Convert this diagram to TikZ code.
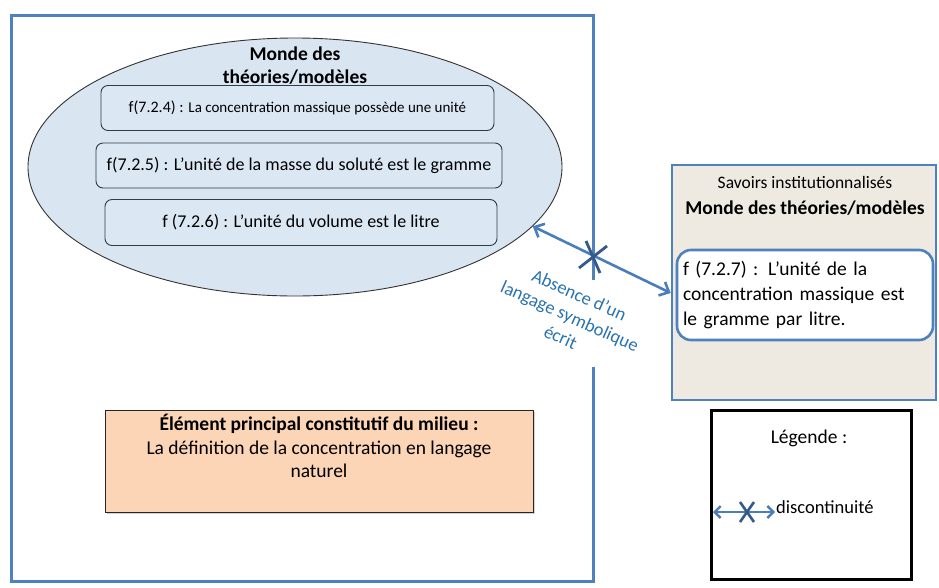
\documentclass[tikz,border=0pt]{standalone}
\usepackage{fontspec}
\setmainfont{Carlito}
\usepackage{xcolor}
\usepackage{tikz}
\usetikzlibrary{shapes,arrows,arrows.meta,positioning,fit,calc,shadows}

\definecolor{cadreBleu}{HTML}{4F81BD}
\definecolor{ellFond}{HTML}{DAE5F2}
\definecolor{boxFond}{HTML}{DCE7F4}
\definecolor{boxBord}{HTML}{2E3B4A}
\definecolor{beige}{HTML}{EEEAE1}
\definecolor{peche}{HTML}{FBD5B6}
\definecolor{flecheBleu}{HTML}{4A7EBB}
\definecolor{croixBleu}{HTML}{35598A}
\definecolor{texteBleu}{HTML}{2A73B0}

\begin{document}
\begin{tikzpicture}[
    x=1pt, y=-1pt,
    cadre/.style={draw=cadreBleu, line width=3pt},
    fbox/.style={rectangle, rounded corners=7pt, draw=boxBord, fill=boxFond, line width=0.9pt, minimum height=45pt, inner sep=0pt},
    inst/.style={rectangle, draw=cadreBleu, fill=beige, line width=2.6pt, minimum width=264pt, minimum height=235pt},
    arrow/.style={<->, >={Straight Barb[length=8pt,width=15pt]}, draw=flecheBleu, line width=2.6pt},
    croix/.style={draw=croixBleu, line width=2.8pt}
]
    \useasboundingbox (0,0) rectangle (939,587);

    % milieu (left frame, open on the right for the label)
    \draw[cadre] (593,280) -- (593,15) -- (11,15) -- (11,581) -- (593,581) -- (593,367);

    % monde des theories / modeles
    \node[ellipse, draw=black!80, fill=ellFond, line width=0.9pt, minimum width=534pt, minimum height=258pt] (ell) at (295,167) {};
    \node[font=\fontsize{19.5}{23}\selectfont\bfseries, align=center] (titre) at (295,66) {Monde des\\théories/modèles};
    \node[fbox, minimum width=393pt] (f724) at (297.5,108)
        {\fontsize{16}{18}\selectfont f(7.2.4) : \fontsize{15}{17}\selectfont La concentration massique possède une unité};
    \node[fbox, minimum width=406pt] (f725) at (299,165.5)
        {\fontsize{18}{21}\selectfont f(7.2.5) : L’unité de la masse du soluté est le gramme};
    \node[fbox, minimum width=392pt, minimum height=46pt] (f726) at (301,222.5)
        {\fontsize{18}{21}\selectfont f (7.2.6) : L’unité du volume est le litre};

    % savoirs institutionnalises
    \node[inst] (savoirs) at (804,282.5) {};
    \node[font=\fontsize{17.5}{20}\selectfont] (stitre) at (805,182) {Savoirs institutionnalisés};
    \node[font=\fontsize{19.5}{22}\selectfont\bfseries, below=6pt of stitre] (smonde) {Monde des théories/modèles};
    \node[rectangle, rounded corners=14pt, draw=cadreBleu, fill=white, line width=2.6pt,
          minimum width=256pt, minimum height=90pt, text width=244pt, align=left,
          font=\fontsize{19.5}{25}\selectfont] (f727) at (805,295)
        {f (7.2.7) : L’unité de la\\concentration massique est\\le gramme par litre.};

    % discontinuite
    \coordinate (coupure) at (593,257);
    \draw[arrow] (ell.-14.7) -- ($(savoirs.west)+(0,10.5)$);
    \draw[croix] ($(coupure)+(-7,-16)$) -- ($(coupure)+(7,16)$);
    \draw[croix] ($(coupure)+(14,-11)$) -- ($(coupure)+(-14,11)$);
    \node[rotate=-24, align=center, text=texteBleu, font=\fontsize{18.5}{23}\selectfont] (absence) at (570,316)
        {Absence d’un\\langage symbolique\\écrit};

    % element principal
    \node[rectangle, draw=black!85, fill=peche, line width=0.8pt, minimum width=428pt, minimum height=102pt,
          drop shadow={opacity=0.35, shadow xshift=1.5pt, shadow yshift=-2pt}] (milieu) at (319,461) {};
    \node[below=1pt of milieu.north, align=center, font=\fontsize{19.5}{23.5}\selectfont] (mtexte)
        {\textbf{Élément principal constitutif du milieu :}\\La définition de la concentration en langage\\naturel};

    % legende
    \node[rectangle, draw=black, line width=3pt, minimum width=200pt, minimum height=169pt] (legende) at (811,494.5) {};
    \node[font=\fontsize{19.5}{22}\selectfont] (ltitre) at (809,438) {Légende :};
    \node[font=\fontsize{18.5}{21}\selectfont, anchor=west, inner sep=1pt] (disc) at (775,507) {discontinuité};
    \coordinate (lgA) at (713,512);
    \coordinate (lgX) at (747,512);
    \draw[arrow, line width=2.4pt, >={Straight Barb[length=6pt,width=12pt]}] (lgA) -- (lgA -| disc.west);
    \draw[croix, line width=2.6pt] ($(lgX)+(-7,-10)$) -- ($(lgX)+(7,10)$);
    \draw[croix, line width=2.6pt] ($(lgX)+(7,-10)$) -- ($(lgX)+(-7,10)$);
\end{tikzpicture}
\end{document}
